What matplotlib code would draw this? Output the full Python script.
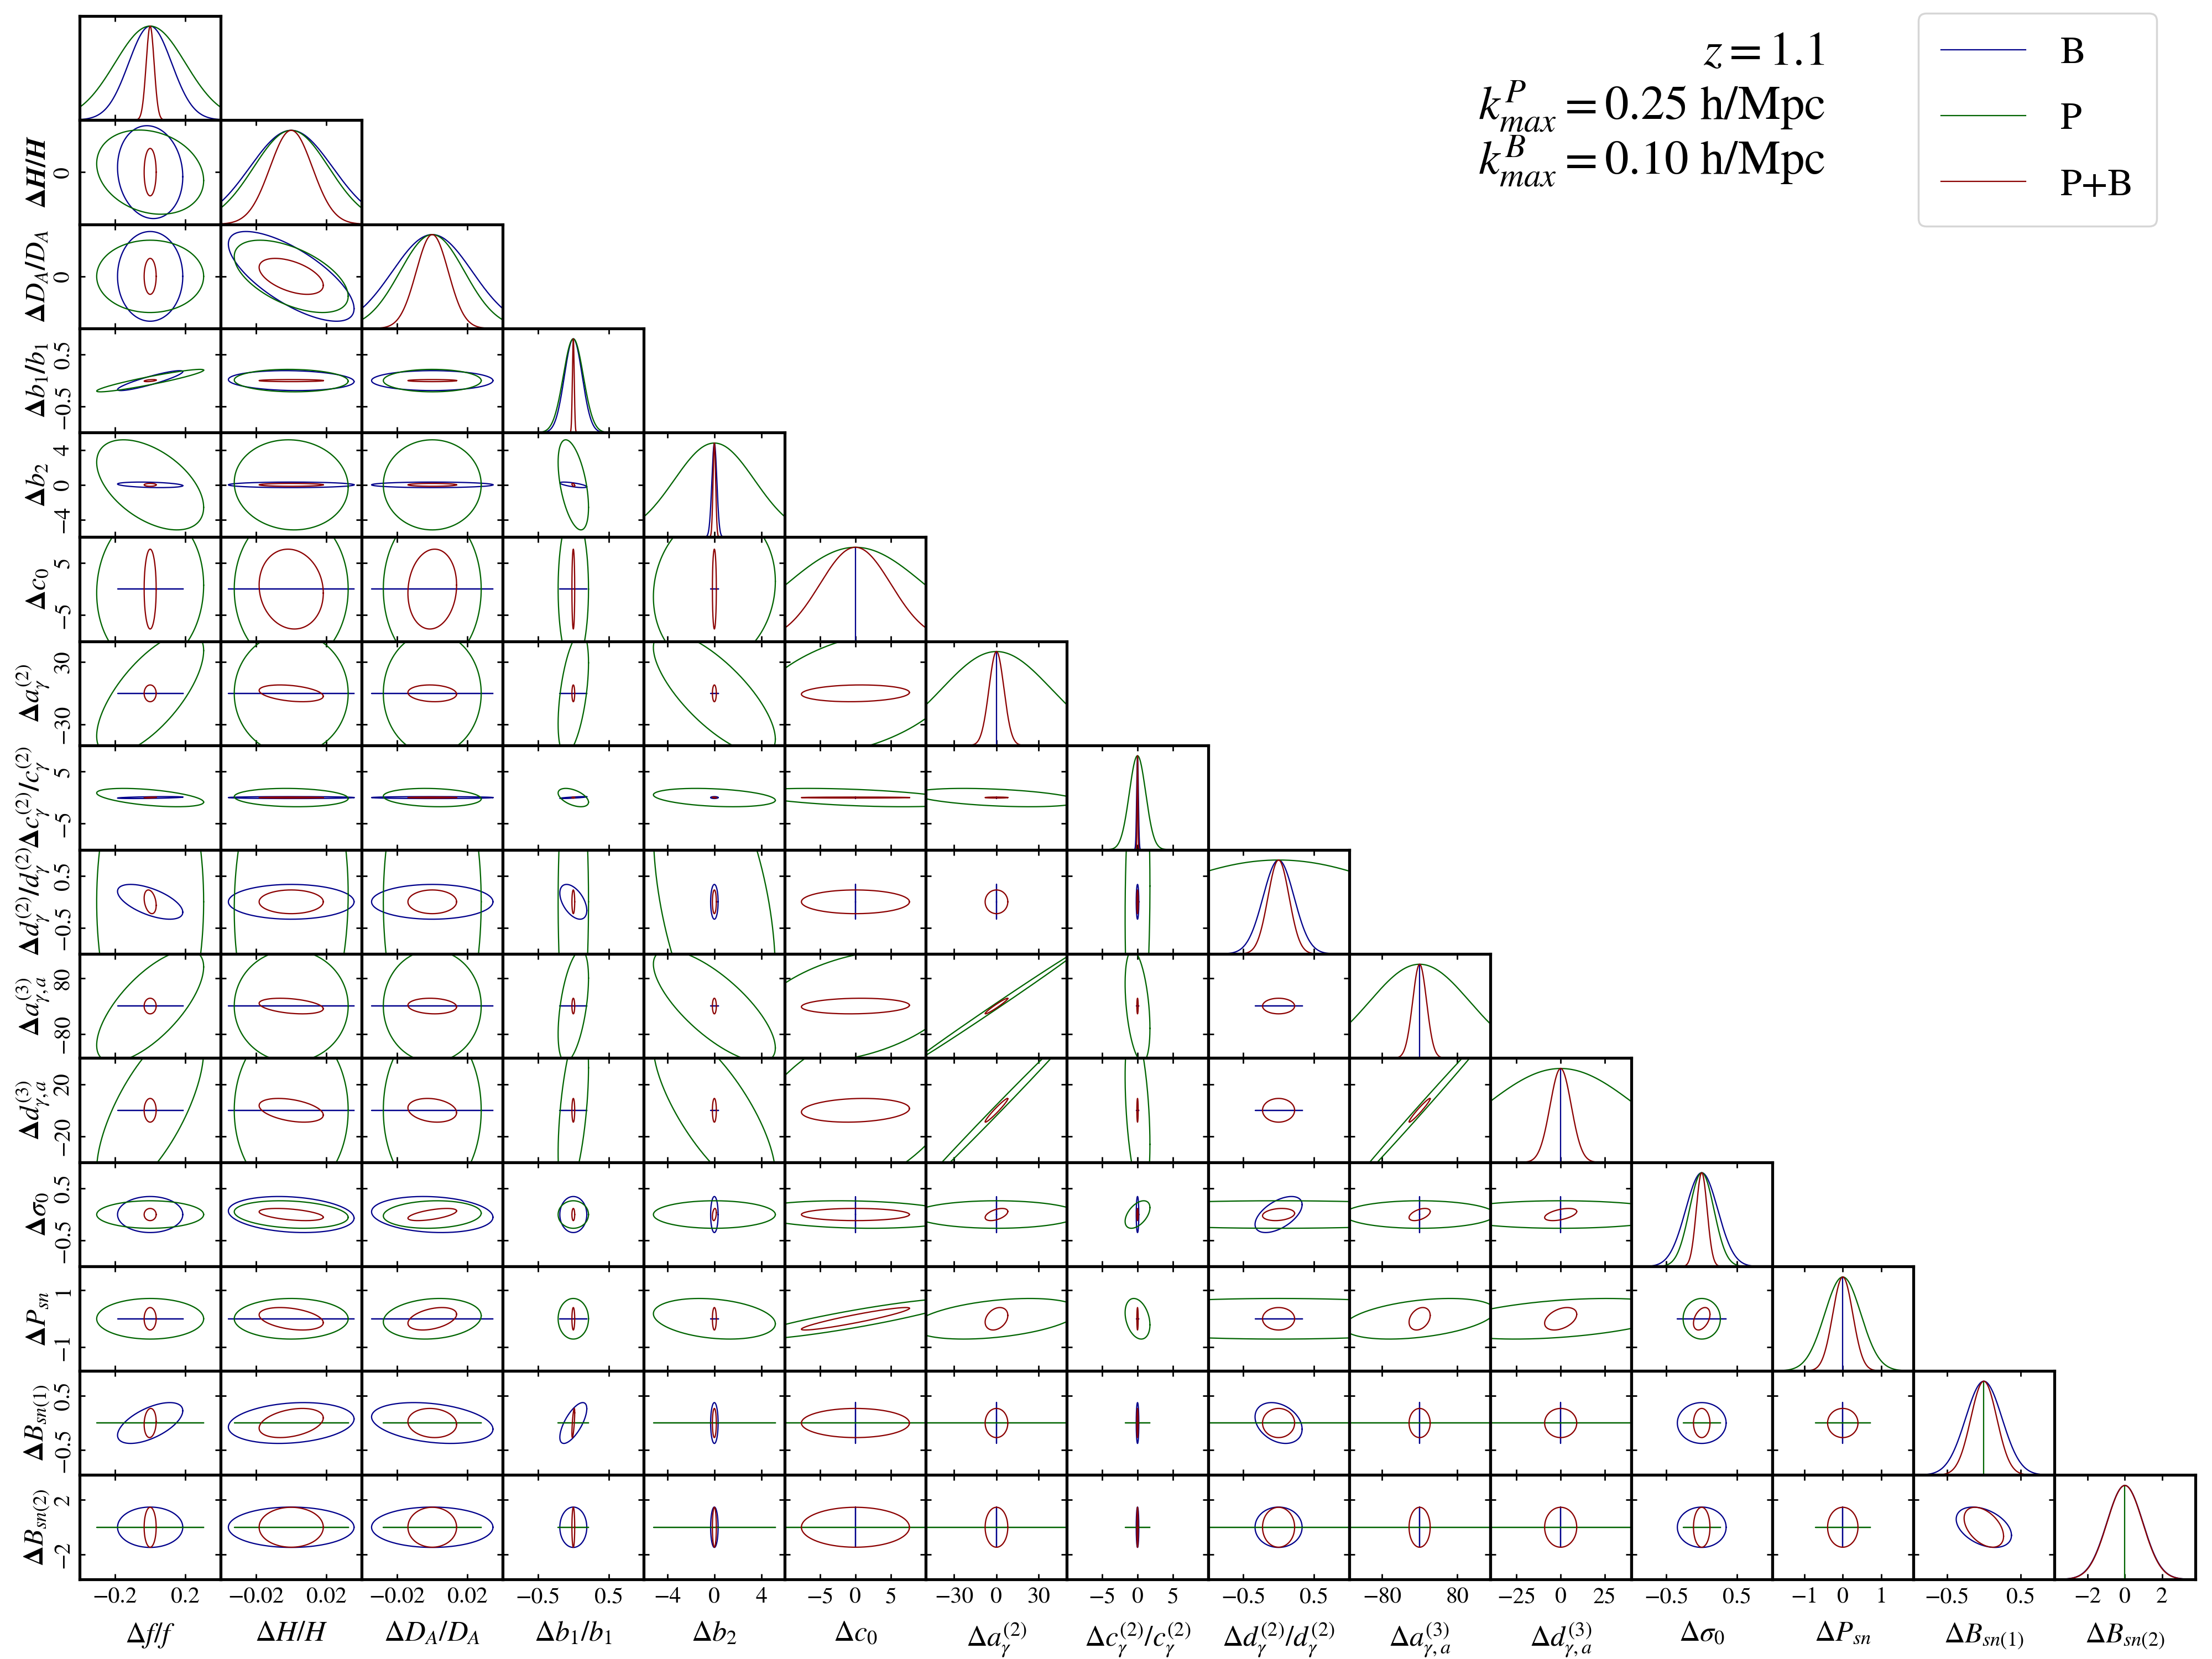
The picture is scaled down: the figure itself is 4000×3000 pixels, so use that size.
import numpy as np
import matplotlib
matplotlib.use('Agg')
import matplotlib.pyplot as plt
from matplotlib.lines import Line2D

plt.rcParams['font.family'] = 'STIXGeneral'
plt.rcParams['mathtext.fontset'] = 'stix'

# parametros del Fisher
params = ['f', 'H', 'DA', 'b1', 'b2', 'c0', 'a2', 'c2', 'd2', 'a3', 'd3', 's0', 'Psn', 'B1', 'B2']
xlabels = [r'$\Delta f/f$', r'$\Delta H/H$', r'$\Delta D_A/D_A$', r'$\Delta b_1/b_1$', r'$\Delta b_2$',
           r'$\Delta c_0$', r'$\Delta a_\gamma^{(2)}$', r'$\Delta c_\gamma^{(2)}/c_\gamma^{(2)}$',
           r'$\Delta d_\gamma^{(2)}/d_\gamma^{(2)}$', r'$\Delta a_{\gamma,a}^{(3)}$', r'$\Delta d_{\gamma,a}^{(3)}$',
           r'$\Delta\sigma_0$', r'$\Delta P_{sn}$', r'$\Delta B_{sn(1)}$', r'$\Delta B_{sn(2)}$']
ylabels = [r'$\boldsymbol{\Delta f/f}$', r'$\boldsymbol{\Delta H/H}$', r'$\boldsymbol{\Delta D_A/D_A}$',
           r'$\boldsymbol{\Delta b_1/b_1}$', r'$\boldsymbol{\Delta b_2}$', r'$\boldsymbol{\Delta c_0}$',
           r'$\boldsymbol{\Delta a_\gamma^{(2)}}$', r'$\boldsymbol{\Delta c_\gamma^{(2)}/c_\gamma^{(2)}}$',
           r'$\boldsymbol{\Delta d_\gamma^{(2)}/d_\gamma^{(2)}}$', r'$\boldsymbol{\Delta a_{\gamma,a}^{(3)}}$',
           r'$\boldsymbol{\Delta d_{\gamma,a}^{(3)}}$', r'$\boldsymbol{\Delta\sigma_0}$',
           r'$\boldsymbol{\Delta P_{sn}}$', r'$\boldsymbol{\Delta B_{sn(1)}}$', r'$\boldsymbol{\Delta B_{sn(2)}}$']

# errores 1-sigma marginalizados (0 = parametro fijo)
sigma_B = [0.122, 0.0235, 0.0227, 0.126, 0.21, 0.0, 0.0, 0.12, 0.22, 0.0, 0.0, 0.228, 0.0, 0.248, 0.97]
sigma_P = [0.200, 0.0213, 0.0183, 0.142, 3.42, 9.8, 38.6, 1.16, 2.0, 106.0, 43.0, 0.174, 0.47, 0.0, 0.0]
sigma_PB = [0.0225, 0.012, 0.0091, 0.013, 0.11, 5.05, 5.3, 0.06, 0.15, 14.8, 6.0, 0.077, 0.26, 0.177, 0.96]

# coeficientes de correlacion (los que no aparecen valen 0)
rho_B = [('f', 'H', -0.1), ('H', 'DA', -0.72), ('f', 'b1', 0.9), ('H', 'b1', -0.1),
         ('f', 'b2', -0.3), ('b1', 'b2', -0.7), ('f', 'c2', 0.5), ('b1', 'c2', 0.8),
         ('f', 'd2', -0.6), ('b1', 'd2', -0.5), ('H', 's0', -0.2), ('DA', 's0', -0.15),
         ('d2', 's0', 0.55), ('f', 'B1', 0.6), ('H', 'B1', 0.2), ('DA', 'B1', -0.3),
         ('b1', 'B1', 0.7), ('d2', 'B1', -0.3), ('B1', 'B2', -0.4)]
rho_P = [('f', 'H', -0.2), ('H', 'DA', -0.55), ('f', 'b1', 0.93), ('H', 'b1', -0.05),
         ('f', 'b2', -0.5), ('H', 'b2', -0.05), ('b1', 'b2', -0.5), ('f', 'c0', 0.05), ('b2', 'c0', 0.1),
         ('f', 'a2', 0.7), ('b1', 'a2', 0.5), ('b2', 'a2', -0.75), ('c0', 'a2', 0.4),
         ('f', 'c2', -0.5), ('H', 'c2', -0.1), ('DA', 'c2', -0.15), ('b1', 'c2', -0.5),
         ('b2', 'c2', -0.3), ('c0', 'c2', -0.45), ('a2', 'c2', -0.4),
         ('H', 'd2', 0.05), ('b2', 'd2', -0.45), ('c2', 'd2', 0.1),
         ('f', 'a3', 0.7), ('b1', 'a3', 0.5), ('b2', 'a3', -0.75), ('c0', 'a3', 0.4),
         ('a2', 'a3', 0.9985), ('c2', 'a3', -0.4),
         ('f', 'd3', 0.7), ('b1', 'd3', 0.5), ('b2', 'd3', -0.75), ('c0', 'd3', 0.4),
         ('a2', 'd3', 0.998), ('c2', 'd3', -0.4), ('a3', 'd3', 0.998),
         ('H', 's0', -0.2), ('DA', 's0', 0.1), ('c0', 's0', -0.15), ('c2', 's0', 0.5),
         ('DA', 'Psn', 0.15), ('b2', 'Psn', -0.25), ('c0', 'Psn', 0.9), ('a2', 'Psn', 0.4),
         ('c2', 'Psn', -0.3), ('a3', 'Psn', 0.4), ('d3', 'Psn', 0.4)]
rho_PB = [('H', 'DA', -0.5), ('f', 'b1', 0.5), ('b1', 'b2', -0.5), ('H', 'c0', -0.1), ('DA', 'c0', 0.1),
          ('H', 'a2', -0.35), ('DA', 'a2', -0.1), ('c0', 'a2', 0.1), ('f', 'c2', 0.5), ('b2', 'c2', -0.5),
          ('f', 'd2', -0.3), ('H', 'a3', -0.35), ('DA', 'a3', -0.1), ('c0', 'a3', 0.1), ('a2', 'a3', 0.97),
          ('H', 'd3', -0.4), ('DA', 'd3', -0.2), ('c0', 'd3', 0.15), ('a2', 'd3', 0.97), ('a3', 'd3', 0.97),
          ('H', 's0', -0.45), ('DA', 's0', 0.6), ('b2', 's0', 0.3), ('a2', 's0', 0.5), ('d2', 's0', 0.2),
          ('a3', 's0', 0.5), ('d3', 's0', 0.5),
          ('H', 'Psn', -0.35), ('DA', 'Psn', 0.4), ('c0', 'Psn', 0.93), ('a2', 'Psn', 0.3),
          ('a3', 'Psn', 0.3), ('d3', 'Psn', 0.4), ('s0', 'Psn', 0.4),
          ('f', 'B1', 0.1), ('H', 'B1', 0.35), ('DA', 'B1', -0.1), ('b1', 'B1', 0.7), ('B1', 'B2', -0.45)]

# rangos y ticks de cada parametro
lims = [0.4, 0.04, 0.04, 1.0, 6.0, 10.0, 50.0, 10.0, 1.0, 150.0, 40.0, 1.0, 1.83, 0.96, 3.8]
xticks = [[-0.2, 0.2], [-0.02, 0.02], [-0.02, 0.02], [-0.5, 0.5], [-4, 0, 4], [-5, 0, 5], [-30, 0, 30],
          [-5, 0, 5], [-0.5, 0.5], [-80, 80], [-25, 0, 25], [-0.5, 0.5], [-1, 0, 1], [-0.5, 0.5], [-2, 0, 2]]
yticks = [[], [0], [0], [-0.5, 0.5], [-4, 0, 4], [-5, 5], [-30, 30], [-5, 5], [-0.5, 0.5], [-80, 80],
          [-20, 20], [-0.5, 0.5], [-1, 1], [-0.5, 0.5], [-2, 2]]

series = [('B', sigma_B, rho_B, 'darkblue'),
          ('P', sigma_P, rho_P, 'darkgreen'),
          ('P+B', sigma_PB, rho_PB, 'darkred')]

alpha = np.sqrt(2.3)  # contorno 1-sigma en 2D
n = len(params)
lw = 0.65


def corr(lista, a, b):
    for p1, p2, r in lista:
        if (p1 == a and p2 == b) or (p1 == b and p2 == a):
            return r
    return 0.0


fig = plt.figure(figsize=(16, 12), dpi=250)
gs = fig.add_gridspec(n, n, left=0.036, right=0.9925, top=0.9905, bottom=0.048, wspace=0, hspace=0)

t = np.linspace(0, 2 * np.pi, 600)
for i in range(n):
    for j in range(i + 1):
        ax = fig.add_subplot(gs[i, j])
        if i == j:
            # diagonal: gaussianas normalizadas
            for nombre, sig, rho, col in series:
                s = sig[i]
                if s == 0:
                    ax.plot([0, 0], [0, 1], color=col, lw=lw)
                else:
                    x = np.sort(np.concatenate([np.linspace(-lims[i], lims[i], 3001),
                                                np.linspace(-6 * s, 6 * s, 301)]))
                    ax.plot(x, np.exp(-x ** 2 / (2 * s ** 2)), color=col, lw=lw)
            ax.set_ylim(0, 1.11)
            ax.set_yticks([])
        else:
            for nombre, sig, rho, col in series:
                sx, sy = sig[j], sig[i]
                if sx == 0 and sy == 0:
                    continue
                r = corr(rho, params[j], params[i])
                x = alpha * sx * np.cos(t)
                y = alpha * sy * (r * np.cos(t) + np.sqrt(1 - r ** 2) * np.sin(t))
                ax.plot(x, y, color=col, lw=lw)
            ax.set_ylim(-lims[i], lims[i])
            ax.set_yticks(yticks[i])
        ax.set_xlim(-lims[j], lims[j])
        ax.set_xticks(xticks[j])
        ax.tick_params(direction='in', top=True, right=True, length=2.8, width=0.8,
                       labelsize=12, pad=4)
        ax.tick_params(axis='y', labelrotation=90, pad=3)
        for sp in ax.spines.values():
            sp.set_linewidth(1.5)
        if i == n - 1:
            ax.set_xlabel(xlabels[j], fontsize=15, labelpad=7)
        else:
            ax.set_xticklabels([])
        if j == 0 and i > 0:
            ax.set_ylabel(ylabels[i], fontsize=14.5, labelpad=1)
            for lb in ax.get_yticklabels():
                lb.set_verticalalignment('center')
        else:
            ax.set_yticklabels([])

fig.text(0.825, 0.961, r'$z = 1.1$', fontsize=25, ha='right', va='baseline')
fig.text(0.825, 0.928, r'$k_{max}^P = 0.25$ h/Mpc', fontsize=25, ha='right', va='baseline')
fig.text(0.825, 0.895, r'$k_{max}^B = 0.10$ h/Mpc', fontsize=25, ha='right', va='baseline')

handles = [Line2D([], [], color=c, lw=lw) for _, _, _, c in series]
fig.legend(handles, [s[0] for s in series], loc='upper right', bbox_to_anchor=(0.975, 0.992),
           fontsize=20, handlelength=2.2, handletextpad=0.9, labelspacing=0.8, borderpad=0.6,
           borderaxespad=0)

fig.savefig('out.png', dpi=250)
